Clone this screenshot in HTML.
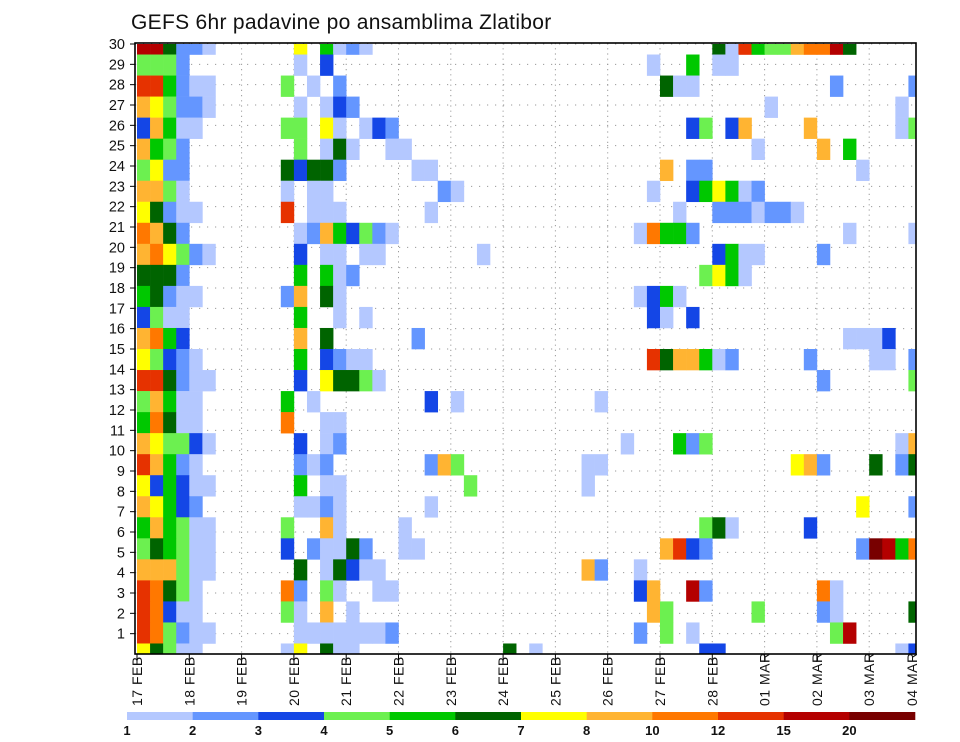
<!DOCTYPE html>
<html><head><meta charset="utf-8"><title>GEFS 6hr padavine</title>
<style>
html,body{margin:0;padding:0;background:#fff;}
svg{display:block;font-family:"Liberation Sans",sans-serif;}
</style></head>
<body>
<svg id="chart" width="960" height="742" viewBox="0 0 960 742" xmlns="http://www.w3.org/2000/svg">
<rect x="0" y="0" width="960" height="742" fill="#fff"/>
<text x="131" y="29" font-size="21" fill="#111" letter-spacing="0.3">GEFS 6hr padavine po ansamblima Zlatibor</text>
<g id="grid"></g>
<g id="cells"></g>
<g id="axes"></g>
<g id="legend"></g>
</svg>
<script>
// ---- data ----
const dayLabels = ["17 FEB","18 FEB","19 FEB","20 FEB","21 FEB","22 FEB","23 FEB","24 FEB","25 FEB","26 FEB","27 FEB","28 FEB","01 MAR","02 MAR","03 MAR","04 MAR"];
const memberLabels = [1,2,3,4,5,6,7,8,9,10,11,12,13,14,15,16,17,18,19,20,21,22,23,24,25,26,27,28,29,30];
const levelBreaks = ["1","2","3","4","5","6","7","8","10","12","15","20"];
const levelColors = ["#b4c8ff","#6496ff","#1446e6","#6cf050","#00c800","#006400","#ffff00","#ffb432","#ff7800","#e63200","#b40000","#780000"];
// band cells, top band first; "column:level" (level 1..12 = colour class)
const bandCells = [
"0:11,1:11,2:6,3:2,4:2,5:1,12:7,14:5,15:1,16:2,17:1,44:6,45:1,46:10,47:5,48:4,49:4,50:8,51:9,52:9,53:11,54:6",
"0:4,1:4,2:4,3:2,12:1,14:3,39:1,42:5,44:1,45:1",
"0:10,1:10,2:5,3:2,4:1,5:1,11:4,13:1,15:2,40:6,41:1,42:1,53:2,59:2",
"0:8,1:7,2:4,3:2,4:2,5:1,12:1,14:1,15:3,16:2,48:1,58:1",
"0:3,1:8,2:5,3:1,4:1,11:4,12:4,14:7,15:1,17:1,18:3,19:2,42:3,43:4,45:3,46:8,51:8,58:1,59:4",
"0:8,1:5,2:4,3:2,12:4,14:1,15:6,16:1,19:1,20:1,47:1,52:8,54:5",
"0:4,1:7,2:2,3:2,11:6,12:3,13:6,14:6,15:2,21:1,22:1,40:8,42:2,43:2,55:1",
"0:8,1:8,2:4,3:1,11:1,13:1,14:1,23:2,24:1,39:1,42:3,43:5,44:7,45:5,46:1,47:2",
"0:7,1:6,2:2,3:1,4:1,11:10,13:1,14:1,15:1,22:1,41:1,44:2,45:2,46:2,47:1,48:2,49:2,50:1",
"0:9,1:8,2:6,3:2,12:1,13:2,14:8,15:5,16:3,17:4,18:2,19:1,38:1,39:9,40:5,41:5,42:2,54:1,59:1",
"0:8,1:9,2:7,3:4,4:2,5:1,12:3,14:1,15:1,17:1,18:1,26:1,44:3,45:5,46:1,47:1,52:2",
"0:6,1:6,2:6,3:2,12:5,14:5,15:1,16:2,43:4,44:7,45:5,46:1",
"0:5,1:6,2:2,3:1,4:1,11:2,12:8,14:6,15:1,38:1,39:3,40:5,41:1",
"0:3,1:4,2:1,3:1,12:5,15:1,17:1,39:3,40:1,42:3",
"0:8,1:9,2:5,3:3,12:8,14:6,21:2,54:1,55:1,56:1,57:3",
"0:7,1:4,2:3,3:2,4:1,12:5,14:3,15:2,16:1,17:1,39:10,40:6,41:8,42:8,43:5,44:1,45:2,51:2,56:1,57:1,59:2",
"0:10,1:10,2:6,3:2,4:1,5:1,12:3,14:7,15:6,16:6,17:4,18:1,52:2,59:4",
"0:4,1:8,2:5,3:1,4:1,11:5,13:1,22:3,24:1,35:1",
"0:5,1:9,2:6,3:1,4:1,11:9,14:1,15:1",
"0:8,1:7,2:4,3:4,4:3,5:1,12:3,14:1,15:2,37:1,41:5,42:2,43:4,58:1,59:8",
"0:10,1:8,2:5,3:2,4:1,12:2,13:1,14:2,22:2,23:8,24:4,34:1,35:1,50:7,51:8,52:2,56:6,58:2,59:6",
"0:7,1:3,2:5,3:3,4:1,5:1,12:5,14:1,15:1,25:4,34:1",
"0:8,1:7,2:5,3:3,4:2,12:1,13:1,14:2,15:1,22:1,55:7,59:2",
"0:5,1:8,2:5,3:4,4:1,5:1,11:4,14:8,15:1,20:1,43:4,44:6,45:1,51:3",
"0:4,1:6,2:5,3:4,4:1,5:1,11:3,13:2,14:1,15:1,16:6,17:2,20:1,21:1,40:8,41:10,42:3,43:2,55:2,56:12,57:11,58:5,59:9",
"0:8,1:8,2:8,3:4,4:1,5:1,12:6,14:1,15:6,16:3,17:1,18:1,34:8,35:2,38:1",
"0:10,1:9,2:6,3:4,4:1,11:9,12:2,14:4,15:1,18:1,19:1,38:3,39:8,42:11,43:2,52:9,53:1",
"0:10,1:9,2:3,3:1,4:1,11:4,12:1,14:8,16:1,39:8,40:4,47:4,52:2,53:1,59:6",
"0:10,1:9,2:4,3:2,4:1,5:1,12:1,13:1,14:1,15:1,16:1,17:1,18:1,19:2,38:2,40:4,42:1,53:4,54:11",
"0:7,1:6,2:4,3:1,4:1,11:1,12:7,14:6,15:1,16:1,28:6,30:1,43:3,44:3,58:1,59:3"
];

// ---- geometry ----
const NS = "http://www.w3.org/2000/svg";
const PL = 135, PR = 916, PT = 43, PB = 654;
const colX0 = 137, colW = 13.075, nCols = 60;
const bandY0 = 44, bandH = (654 - 44) / 29;
function xCol(c){ return colX0 + colW * c; }
function xDay(d){ return colX0 + colW * 4 * d; }
function yBand(k){ return bandY0 + bandH * k; }
function yMember(m){ return PB - (PB - PT - 1) / 30 * m; }
function mk(tag, attrs, parent){ const e = document.createElementNS(NS, tag); for (const k in attrs) e.setAttribute(k, attrs[k]); parent.appendChild(e); return e; }

const grid = document.getElementById('grid');
const cells = document.getElementById('cells');
const axes = document.getElementById('axes');
const legend = document.getElementById('legend');

// grid lines
memberLabels.forEach(m => {
  const y = yMember(m);
  const l = mk('line', {x1: PL, x2: PR, y1: y, y2: y, stroke: '#9a9a9a', 'stroke-width': 1, 'stroke-dasharray': '1.2,6.8'}, grid);
  
  
});
dayLabels.forEach((d, i) => {
  const x = xDay(i);
  if (i === 0 || x > PR) return;
  const l = mk('line', {x1: x, x2: x, y1: PT, y2: PB, stroke: '#9a9a9a', 'stroke-width': 1, 'stroke-dasharray': '1.2,4'}, grid);
  
  
});

// cells
bandCells.forEach((row, k) => {
  if (!row) return;
  const yc = yBand(k);
  const y1 = Math.max(PT + 1, yc - bandH / 2), y2 = Math.min(PB, yc + bandH / 2);
  row.split(',').forEach(p => {
    const [c, v] = p.split(':').map(Number);
    const x1 = xCol(c), x2 = Math.min(PR, xCol(c + 1));
    const r = mk('rect', {x: x1.toFixed(2), y: y1.toFixed(2), width: (x2 - x1 + 0.3).toFixed(2), height: (y2 - y1 + 0.3).toFixed(2), fill: levelColors[v - 1]}, cells);
    
    
  });
});

// frame
const frame = mk('rect', {x: PL, y: PT, width: PR - PL, height: PB - PT, fill: 'none', stroke: '#000', 'stroke-width': 1.6}, axes);



// y axis labels
memberLabels.forEach(m => {
  const y = yMember(m);
  const t = mk('line', {x1: PL - 5, x2: PL, y1: y, y2: y, stroke: '#000', 'stroke-width': 1}, axes);
  
  
  const tx = mk('text', {x: PL - 10, y: y + 5, 'font-size': 14.5, 'text-anchor': 'end', fill: '#111'}, axes);
  tx.textContent = m;
  
  
});

// x axis labels
dayLabels.forEach((d, i) => {
  let x = xDay(i);
  if (x <= PR) {
    const t = mk('line', {x1: x, x2: x, y1: PB, y2: PB + 8, stroke: '#000', 'stroke-width': 1}, axes);
    
    
  }
  x = Math.min(x, 912);
  const tx = mk('text', {transform: `translate(${(x + 5).toFixed(1)},706) rotate(-90)`, 'font-size': 14, 'text-anchor': 'start', fill: '#111', 'letter-spacing': '0.5'}, axes);
  tx.textContent = d;
  
  
});

// legend
const lx0 = 127, lx1 = 915, lw = (lx1 - lx0) / levelColors.length;
levelColors.forEach((col, i) => {
  const r = mk('rect', {x: (lx0 + lw * i).toFixed(2), y: 712, width: (lw + 0.3).toFixed(2), height: 8, fill: col}, legend);
  
  
  const t = mk('text', {x: (lx0 + lw * i).toFixed(2), y: 735, 'font-size': 13, 'font-weight': 'bold', 'text-anchor': 'middle', fill: '#111'}, legend);
  t.textContent = levelBreaks[i];
  
  
});
</script>
</body></html>
